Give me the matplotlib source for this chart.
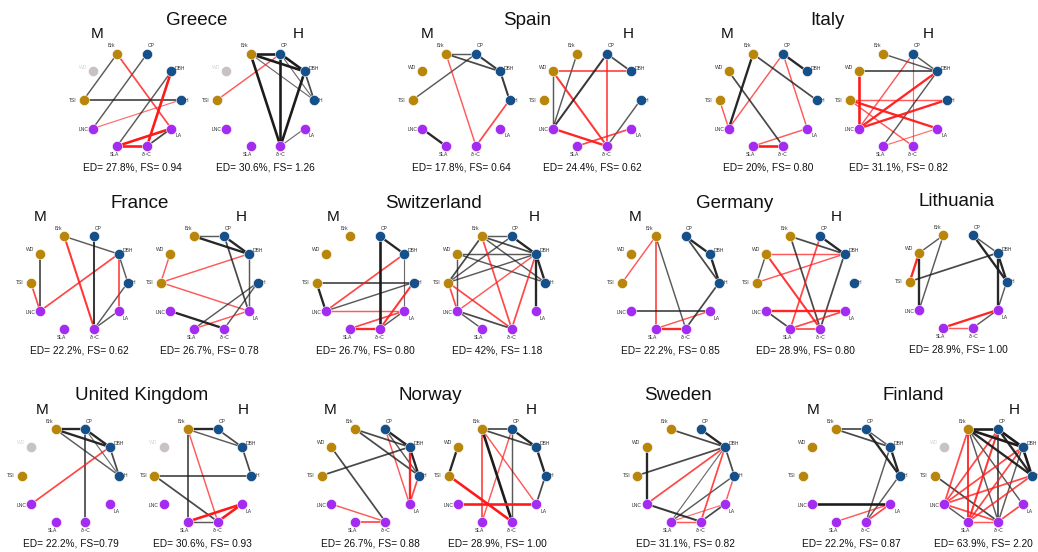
import numpy as np
import matplotlib
matplotlib.use("Agg")
import matplotlib.pyplot as plt

plt.rcParams['font.family'] = ['Liberation Sans', 'DejaVu Sans']

# ---- nodes (circle layout order, starting at angle 0 and going counter-clockwise)
NODES = ["H", "DBH", "CP", "Brk", "WD", "TSI", "LNC", "SLA", "C", "LA"]
NODE_LABELS = {"H": "H", "DBH": "DBH", "CP": "CP", "Brk": "Brk", "WD": "WD",
               "TSI": "TSI", "LNC": "LNC", "SLA": "SLA", "C": "δ¹³C", "LA": "LA"}
NODE_GROUP = {"Brk": "bark", "WD": "bark", "TSI": "bark",
              "CP": "size", "DBH": "size", "H": "size",
              "LNC": "leaf", "SLA": "leaf", "C": "leaf", "LA": "leaf"}
GROUP_COLORS = {"bark": "#B8860B", "size": "#16508A", "leaf": "#A42CF0", "na": "#C9C2C2"}

# ---- edges: (node, node, partial correlation); positive black, negative red
GREECE_M = [("Brk", "TSI", 0.5), ("CP", "LNC", 0.5), ("Brk", "LA", -0.6), ("TSI", "H", 0.6),
            ("LNC", "H", -0.4), ("DBH", "SLA", 0.5), ("DBH", "C", -0.9), ("SLA", "LA", -0.9),
            ("SLA", "C", -0.9), ("C", "LA", 0.6)]
GREECE_H = [("Brk", "CP", 0.9), ("Brk", "DBH", 0.9), ("Brk", "H", 0.4), ("Brk", "C", 0.9),
            ("CP", "DBH", 0.9), ("CP", "H", 0.4), ("CP", "C", 0.9), ("DBH", "H", 0.6),
            ("DBH", "C", 0.9), ("CP", "TSI", -0.5), ("C", "LA", 0.4)]
SPAIN_M = [("Brk", "CP", 0.5), ("Brk", "DBH", 0.6), ("CP", "DBH", 0.7), ("CP", "TSI", 0.5),
           ("DBH", "H", 0.7), ("Brk", "C", -0.5), ("H", "C", -0.6), ("LNC", "SLA", 0.8)]
SPAIN_H = [("WD", "DBH", -0.6), ("WD", "LNC", 0.5), ("WD", "C", -0.7), ("Brk", "LNC", 0.5),
           ("CP", "LNC", 0.7), ("CP", "DBH", 0.6), ("CP", "C", -0.6), ("H", "C", 0.5),
           ("LNC", "C", -0.8), ("SLA", "LA", -0.6)]
ITALY_M = [("Brk", "LNC", 0.8), ("Brk", "H", 0.6), ("WD", "C", 0.6), ("CP", "DBH", 0.8),
           ("CP", "LNC", -0.5), ("CP", "LA", -0.5), ("TSI", "LNC", -0.5), ("LA", "SLA", -0.5),
           ("SLA", "C", -0.9)]
ITALY_H = [("Brk", "DBH", 0.5), ("CP", "DBH", 0.5), ("WD", "DBH", 0.6), ("WD", "LNC", -0.9),
           ("TSI", "H", -0.5), ("TSI", "LA", -0.8), ("TSI", "C", -0.5), ("CP", "LNC", -0.5),
           ("LNC", "DBH", -0.8), ("LNC", "H", -0.8), ("SLA", "DBH", 0.5), ("SLA", "LA", -0.4),
           ("CP", "C", -0.4)]
FRANCE_M = [("Brk", "DBH", 0.5), ("Brk", "C", -0.7), ("CP", "C", 0.7), ("WD", "LNC", 0.6),
            ("TSI", "LNC", -0.6), ("LNC", "DBH", -0.6), ("DBH", "LA", -0.6), ("DBH", "H", 0.5),
            ("H", "C", 0.5), ("LA", "C", 0.5)]
FRANCE_H = [("Brk", "CP", 0.5), ("Brk", "DBH", 0.8), ("CP", "DBH", 0.8), ("CP", "LA", 0.6),
            ("DBH", "LA", 0.5), ("WD", "TSI", -0.5), ("TSI", "DBH", -0.5), ("TSI", "LA", -0.5),
            ("H", "SLA", 0.5), ("H", "C", 0.5), ("LNC", "C", 0.8), ("SLA", "LA", -0.5)]
SWISS_M = [("CP", "C", 0.9), ("CP", "DBH", 0.8), ("DBH", "LA", 0.4), ("TSI", "H", 0.6),
           ("TSI", "LNC", 0.8), ("LNC", "DBH", -0.6), ("LNC", "H", 0.5), ("LNC", "LA", -0.5),
           ("H", "C", -0.7), ("SLA", "LA", -0.6), ("SLA", "C", -0.8), ("LA", "C", 0.5)]
SWISS_H = [("Brk", "CP", 0.5), ("Brk", "DBH", 0.6), ("Brk", "H", 0.5), ("Brk", "TSI", 0.6),
           ("Brk", "C", -0.6), ("CP", "DBH", 0.8), ("CP", "TSI", 0.5), ("WD", "DBH", 0.5),
           ("WD", "H", 0.5), ("WD", "LNC", 0.5), ("DBH", "H", 0.8), ("DBH", "LA", 0.8),
           ("DBH", "TSI", 0.5), ("DBH", "LNC", -0.5), ("DBH", "C", -0.6), ("TSI", "LNC", -0.6),
           ("TSI", "C", -0.6), ("LNC", "SLA", 0.5), ("LNC", "C", 0.6)]
GERMANY_M = [("Brk", "TSI", -0.5), ("Brk", "SLA", -0.6), ("Brk", "C", 0.5), ("CP", "DBH", 0.8),
             ("CP", "H", 0.6), ("DBH", "H", 0.8), ("H", "C", 0.6), ("LNC", "LA", 0.6),
             ("SLA", "LA", -0.5), ("SLA", "C", -0.8)]
GERMANY_H = [("Brk", "DBH", 0.6), ("Brk", "C", 0.6), ("CP", "DBH", 0.8), ("CP", "SLA", -0.6),
             ("WD", "DBH", -0.5), ("WD", "TSI", 0.5), ("WD", "C", -0.7), ("TSI", "DBH", -0.5),
             ("DBH", "C", 0.6), ("LNC", "LA", -0.8), ("LNC", "SLA", 0.6), ("SLA", "LA", -0.6),
             ("SLA", "C", -0.6)]
LITHUANIA = [("Brk", "WD", 0.5), ("Brk", "LNC", 0.5), ("WD", "TSI", -0.8), ("WD", "LNC", 0.8),
             ("TSI", "DBH", 0.6), ("CP", "DBH", 0.5), ("CP", "H", 0.8), ("DBH", "H", 0.8),
             ("DBH", "LA", 0.8), ("H", "LA", 0.5), ("SLA", "LA", -0.8), ("SLA", "C", -0.5),
             ("LA", "C", 0.5)]
UK_M = [("Brk", "CP", 0.8), ("Brk", "DBH", 0.8), ("Brk", "H", 0.5), ("CP", "DBH", 0.8),
        ("CP", "H", 0.4), ("CP", "C", 0.6), ("DBH", "H", 0.6), ("DBH", "LNC", -0.6)]
UK_H = [("Brk", "CP", 0.8), ("Brk", "DBH", 0.5), ("CP", "DBH", 0.6), ("DBH", "H", 0.6),
        ("Brk", "SLA", 0.6), ("Brk", "C", -0.5), ("TSI", "H", 0.6), ("TSI", "C", 0.6),
        ("SLA", "C", 0.5), ("SLA", "LA", -0.9), ("C", "LA", -0.9)]
NORWAY_M = [("Brk", "DBH", 0.6), ("Brk", "H", 0.6), ("CP", "DBH", 0.8), ("CP", "H", 0.5),
            ("CP", "LA", -0.5), ("DBH", "H", 0.8), ("DBH", "LA", -0.8), ("H", "LA", -0.6),
            ("TSI", "DBH", 0.6), ("WD", "C", 0.6), ("LNC", "C", -0.5), ("SLA", "C", -0.6)]
NORWAY_H = [("Brk", "CP", 0.6), ("Brk", "DBH", 0.6), ("CP", "DBH", 0.8), ("DBH", "H", 0.8),
            ("H", "LA", 0.6), ("Brk", "SLA", -0.6), ("Brk", "C", 0.9), ("Brk", "LA", -0.5),
            ("CP", "SLA", -0.5), ("CP", "C", 0.5), ("WD", "TSI", 0.8), ("TSI", "C", -0.9),
            ("LNC", "LA", -0.9)]
SWEDEN = [("Brk", "DBH", 0.6), ("CP", "DBH", 0.8), ("WD", "LNC", 0.8), ("TSI", "DBH", 0.6),
          ("DBH", "LNC", -0.6), ("DBH", "SLA", 0.4), ("DBH", "C", -0.6), ("DBH", "H", 0.6),
          ("H", "LA", -0.5), ("H", "SLA", 0.5), ("LNC", "C", 0.7), ("SLA", "LA", -0.4),
          ("SLA", "C", -0.5), ("LA", "C", 0.6)]
FINLAND_M = [("Brk", "CP", 0.6), ("Brk", "DBH", 0.6), ("CP", "DBH", 0.5), ("CP", "H", 0.8),
             ("DBH", "H", 0.8), ("DBH", "C", 0.5), ("H", "C", 0.5), ("LNC", "LA", 0.9),
             ("SLA", "LA", -0.5), ("C", "LA", -0.6)]
FINLAND_H = [("Brk", "CP", 0.9), ("Brk", "DBH", 0.9), ("Brk", "H", 0.8), ("CP", "DBH", 0.9),
             ("CP", "H", 0.8), ("DBH", "H", 0.9), ("Brk", "C", 0.5), ("CP", "C", 0.6),
             ("Brk", "LA", 0.5), ("TSI", "C", 0.6), ("LNC", "SLA", 0.5), ("DBH", "C", 0.5),
             ("Brk", "LNC", -0.6), ("Brk", "SLA", -0.7), ("CP", "LNC", -0.6), ("CP", "SLA", -0.7),
             ("DBH", "LNC", -0.6), ("DBH", "SLA", -0.6), ("H", "LNC", -0.6), ("H", "SLA", -0.6),
             ("LNC", "C", -0.6), ("SLA", "C", -0.5), ("C", "LA", -0.6)]

# ---- network statistics (edge density, fractional score)
STATS = {
    "GREECE_M": "ED= 27.8%, FS= 0.94", "GREECE_H": "ED= 30.6%, FS= 1.26",
    "SPAIN_M": "ED= 17.8%, FS= 0.64", "SPAIN_H": "ED= 24.4%, FS= 0.62",
    "ITALY_M": "ED= 20%, FS= 0.80", "ITALY_H": "ED= 31.1%, FS= 0.82",
    "FRANCE_M": "ED= 22.2%, FS= 0.62", "FRANCE_H": "ED= 26.7%, FS= 0.78",
    "SWISS_M": "ED= 26.7%, FS= 0.80", "SWISS_H": "ED= 42%, FS= 1.18",
    "GERMANY_M": "ED= 22.2%, FS= 0.85", "GERMANY_H": "ED= 28.9%, FS= 0.80",
    "LITHUANIA": "ED= 28.9%, FS= 1.00",
    "UK_M": "ED= 22.2%, FS=0.79", "UK_H": "ED= 30.6%, FS= 0.93",
    "NORWAY_M": "ED= 26.7%, FS= 0.88", "NORWAY_H": "ED= 28.9%, FS= 1.00",
    "SWEDEN": "ED= 31.1%, FS= 0.82",
    "FINLAND_M": "ED= 22.2%, FS= 0.87", "FINLAND_H": "ED= 63.9%, FS= 2.20",
}

# ---- figure layout (pixel coordinates): title position, then each panel
# panel: (key, edges, centre x, centre y, missing nodes)
GROUPS = [
    ("Greece", 197, 100, [("GREECE_M", GREECE_M, 132, 100, ["WD"]),
                          ("GREECE_H", GREECE_H, 265.5, 100, ["WD"])]),
    ("Spain", 527, 100, [("SPAIN_M", SPAIN_M, 461, 100, []),
                         ("SPAIN_H", SPAIN_H, 592, 100, [])]),
    ("Italy", 827, 100, [("ITALY_M", ITALY_M, 768, 100, []),
                         ("ITALY_H", ITALY_H, 898, 100, [])]),
    ("France", 140, 282.5, [("FRANCE_M", FRANCE_M, 79.3, 282.5, []),
                            ("FRANCE_H", FRANCE_H, 209.3, 282.5, [])]),
    ("Switzerland", 433, 282.5, [("SWISS_M", SWISS_M, 365, 282.5, []),
                                 ("SWISS_H", SWISS_H, 496.7, 282.5, [])]),
    ("Germany", 735, 282.5, [("GERMANY_M", GERMANY_M, 670.7, 282.5, []),
                             ("GERMANY_H", GERMANY_H, 805.3, 282.5, [])]),
    ("Lithuania", 957, 281.5, [("LITHUANIA", LITHUANIA, 958.3, 281.5, [])]),
    ("United Kingdom", 142, 475.5, [("UK_M", UK_M, 70.5, 475.5, ["WD"]),
                                    ("UK_H", UK_H, 202.8, 475.5, ["WD"])]),
    ("Norway", 430, 475.5, [("NORWAY_M", NORWAY_M, 370.3, 475.5, []),
                            ("NORWAY_H", NORWAY_H, 497, 475.5, [])]),
    ("Sweden", 678, 475.5, [("SWEDEN", SWEDEN, 685.8, 475.5, [])]),
    ("Finland", 913, 475.5, [("FINLAND_M", FINLAND_M, 851, 475.5, []),
                             ("FINLAND_H", FINLAND_H, 983.3, 475.5, ["WD"])]),
]

RADIUS = 48.5
LABEL_OFFSETS = {"Brk": (-6, -8), "CP": (4, -8), "DBH": (9, -3), "H": (6, 0),
                 "LA": (7, 7), "C": (0, 8.5), "SLA": (-3, 8.5), "LNC": (-9.5, 1),
                 "TSI": (-11, 0), "WD": (-10, -4)}

fig = plt.figure(figsize=(10.38, 5.52), dpi=100)
ax = fig.add_axes([0, 0, 1, 1])
ax.set_xlim(0, 1038)
ax.set_ylim(552, 0)
ax.axis("off")

PX = 0.72  # points per pixel at 100 dpi


def node_xy(name, cx, cy):
    ang = np.deg2rad(36 * NODES.index(name))
    return cx + RADIUS * np.cos(ang), cy - RADIUS * np.sin(ang)


def draw_network(key, edges, cx, cy, missing):
    for a, b, w in sorted(edges, key=lambda e: abs(e[2])):
        xa, ya = node_xy(a, cx, cy)
        xb, yb = node_xy(b, cx, cy)
        color = "#1c1c1c" if w > 0 else "#ff1a1a"
        ax.plot([xa, xb], [ya, yb], color=color, lw=2.9 * abs(w) * PX,
                alpha=min(1.0, 0.35 + 0.75 * abs(w)), solid_capstyle="round", zorder=2)
    for n in NODES:
        x, y = node_xy(n, cx, cy)
        grp = "na" if n in missing else NODE_GROUP[n]
        ax.scatter([x], [y], s=54, color=GROUP_COLORS[grp], edgecolors="white",
                   linewidths=0.4, zorder=3)
        dx, dy = LABEL_OFFSETS[n]
        ax.text(x + dx, y + dy, NODE_LABELS[n], fontsize=3.6, ha="center", va="center",
                color="#d8d4d4" if n in missing else "#333333", zorder=4)
    ax.text(cx, cy + 71, STATS[key], fontsize=7.3, ha="center", va="baseline", color="#111111")


for title, tx, cy, panels in GROUPS:
    ax.text(tx, cy - 75, title, fontsize=13.5, ha="center", va="baseline", color="#111111")
    if len(panels) == 2:
        ax.text(tx - 100, cy - 61.5, "M", fontsize=11, ha="center", va="baseline", color="#111111")
        ax.text(tx + 101, cy - 61.5, "H", fontsize=11, ha="center", va="baseline", color="#111111")
    for key, edges, cx, pcy, missing in panels:
        draw_network(key, edges, cx, pcy, missing)

fig.savefig("out.png", dpi=100, facecolor="white")
